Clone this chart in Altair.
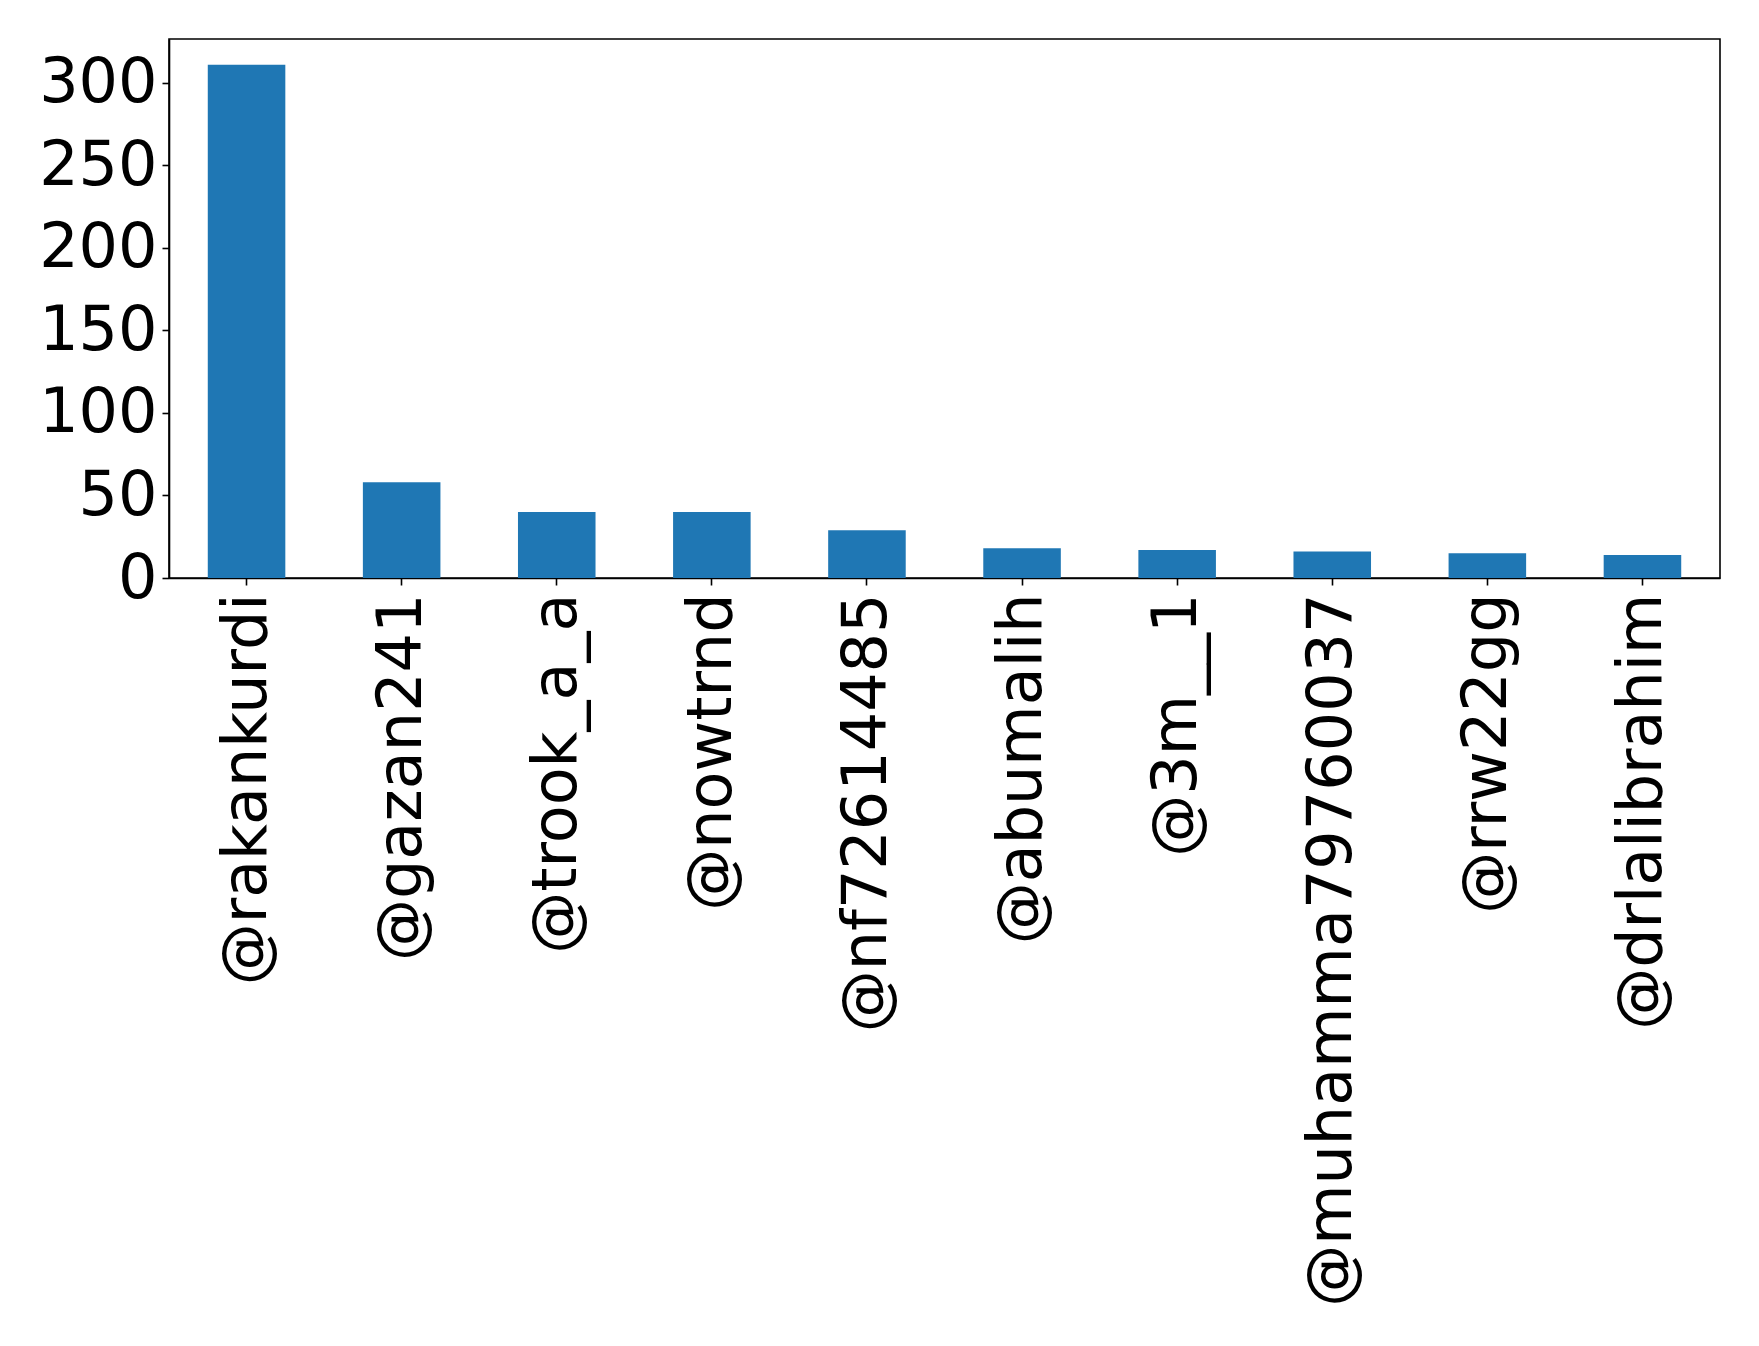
import altair as alt
import pandas as pd

# Mention counts per account
accounts = ["@rakankurdi", "@gazan241", "@trook_a_a", "@nowtrnd", "@nf72614485",
            "@abumalih", "@3m__1", "@muhamma79760037", "@rrw22gg", "@drlalibrahim"]
counts = [311, 58, 40, 40, 29, 18, 17, 16, 15, 14]
y_ticks = [0, 50, 100, 150, 200, 250, 300]

df = pd.DataFrame({"account": accounts, "count": counts})

FONT = "DejaVu Sans"
FS = 62

chart = (
    alt.Chart(df)
    .mark_bar(color="#1f77b4")
    .encode(
        x=alt.X(
            "account:N",
            sort=accounts,
            title=None,
            scale=alt.Scale(paddingInner=0.5, paddingOuter=0.25),
            axis=alt.Axis(
                labelAngle=-90,
                labelFont=FONT,
                labelFontSize=FS,
                labelColor="black",
                labelPadding=8,
                labelLimit=2000,
                tickSize=7,
                tickColor="black",
                tickWidth=1.6,
                domainColor="black",
                domainWidth=1.6,
            ),
        ),
        y=alt.Y(
            "count:Q",
            title=None,
            scale=alt.Scale(domain=[0, 326.55], nice=False, zero=True),
            axis=alt.Axis(
                values=y_ticks,
                grid=False,
                labelFont=FONT,
                labelFontSize=FS,
                labelColor="black",
                labelPadding=5,
                tickSize=7,
                tickColor="black",
                tickWidth=1.6,
                domainColor="black",
                domainWidth=1.6,
            ),
        ),
    )
    .properties(
        width=1551,
        height=539,
        background="white",
        autosize=alt.AutoSizeParams(type="none"),
        padding={"left": 169, "top": 39, "right": 39, "bottom": 768},
    )
    .configure_view(stroke="black", strokeWidth=1.6)
)

chart.save("out.html", embed_options={"renderer": "svg", "actions": False})
